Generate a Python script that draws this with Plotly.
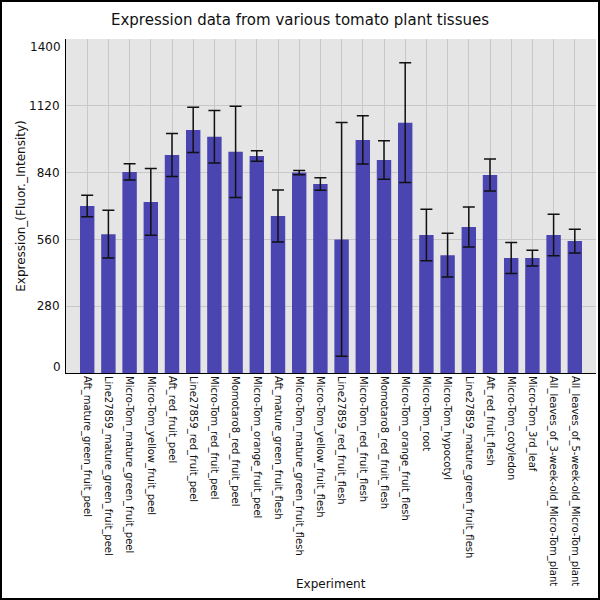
import plotly.graph_objs as go

experiments = [
    'Aft_mature_green_fruit_peel', 'Line27859_mature_green_fruit_peel',
    'Micro-Tom_mature_green_fruit_peel', 'Micro-Tom_yellow_fruit_peel',
    'Aft_red_fruit_peel', 'Line27859_red_fruit_peel',
    'Micro-Tom_red_fruit_peel', 'Momotaro8_red_fruit_peel',
    'Micro-Tom_orange_fruit_peel', 'Aft_mature_green_fruit_flesh',
    'Micro-Tom_mature_green_fruit_flesh', 'Micro-Tom_yellow_fruit_flesh',
    'Line27859_red_fruit_flesh', 'Micro-Tom_red_fruit_flesh',
    'Momotaro8_red_fruit_flesh', 'Micro-Tom_orange_fruit_flesh',
    'Micro-Tom_root', 'Micro-Tom_hypocotyl',
    'Line27859_mature_green_fruit_flesh', 'Aft_red_fruit_flesh',
    'Micro-Tom_cotyledon', 'Micro-Tom_3rd_leaf',
    'All_leaves_of_3-week-old_Micro-Tom_plant',
    'All_leaves_of_5-week-old_Micro-Tom_plant',
]
expression = [700, 582, 843, 717, 914, 1019, 990, 927, 910, 658, 840, 792,
              560, 977, 893, 1049, 578, 494, 612, 830, 482, 482, 578, 553]
error = [45, 100, 34, 140, 90, 95, 110, 191, 22, 109, 9, 26,
         490, 101, 81, 251, 108, 92, 84, 67, 65, 33, 87, 50]
y_ticks = [0, 280, 560, 840, 1120, 1400]

W, H = 600, 600
L, R, T, B = 66, 4, 39, 227
pw, ph = W - L - R, H - T - B
tick_font = dict(size=12, color='#111111')

trace = go.Bar(
    x=experiments,
    y=expression,
    width=0.68,
    marker=dict(color='#4a45b1', line=dict(width=0)),
    error_y=dict(type='data', array=error, visible=True,
                 color='#111111', thickness=1.5, width=6),
)

# end labels are pulled inside the plot area, so they go in as annotations
inner_text = [''] + [str(v) for v in y_ticks[1:-1]] + ['']

layout = go.Layout(
    width=W, height=H,
    margin=dict(l=L, r=R, t=T, b=B),
    paper_bgcolor='white',
    plot_bgcolor='#e5e5e5',
    font=dict(family='DejaVu Sans', color='#222222'),
    title=dict(text='Expression data from various tomato plant tissues',
               x=0.5, xref='container', xanchor='center',
               y=1 - 20 / H, yanchor='middle',
               font=dict(size=15, color='#111111')),
    showlegend=False,
    xaxis=dict(
        range=[-1, 24], tickangle=90, tickfont=dict(size=10, color='#111111'),
        showgrid=True, gridcolor='#c8c8c8', gridwidth=1,
        showline=True, linecolor='black', linewidth=1,
        ticks='', automargin=False,
    ),
    yaxis=dict(
        range=[0, 1400], tickvals=y_ticks, ticktext=inner_text,
        tickfont=tick_font,
        showgrid=True, gridcolor='#c8c8c8', gridwidth=1,
        showline=True, linecolor='black', linewidth=1,
        ticks='', ticklabelstandoff=3, automargin=False,
        zeroline=False,
        title=dict(text='Expression_(Fluor._Intensity)',
                   font=dict(size=12, color='#111111'), standoff=0),
    ),
)

fig = go.Figure(data=[trace], layout=layout)

for v, shift in [(y_ticks[0], 6), (y_ticks[-1], -8)]:
    fig.add_annotation(text=str(v), xref='paper', yref='y', x=0, y=v,
                       xanchor='right', yanchor='middle', xshift=-3,
                       yshift=shift, showarrow=False, font=tick_font)

# x axis title sits a little higher than plotly would put it
fig.add_annotation(text='Experiment', xref='paper', yref='paper',
                   x=0.5, y=(H - B - 584) / ph, xanchor='center',
                   yanchor='middle', showarrow=False,
                   font=dict(size=12, color='#111111'))

# black frame round the whole picture
fig.add_shape(type='rect', xref='paper', yref='paper',
              x0=(1 - L) / pw, x1=(W - L - 1) / pw,
              y0=(1 - B) / ph, y1=(H - B - 1) / ph,
              line=dict(color='black', width=2), layer='above')

fig.write_html("out.html", config={'displayModeBar': False},
               post_script="document.body.style.margin='0';")
